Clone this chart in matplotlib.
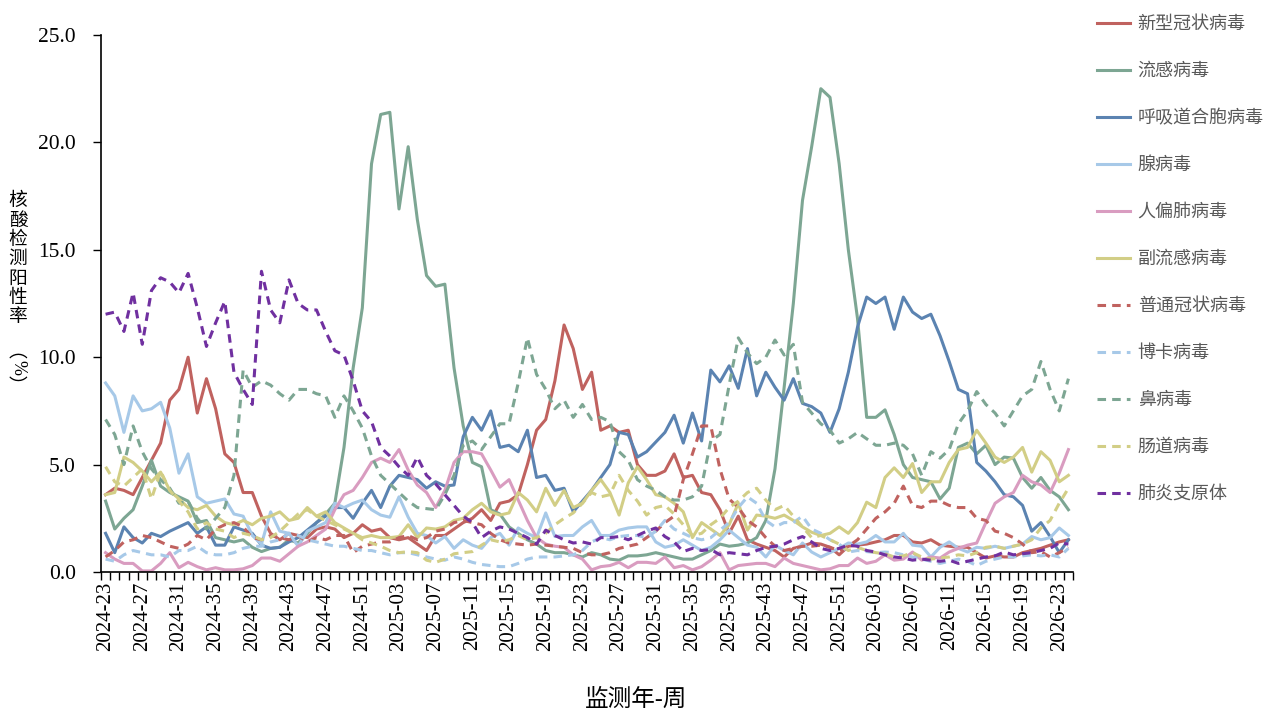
import numpy as np
import matplotlib.pyplot as plt
from matplotlib.ticker import NullFormatter

plt.rcParams['font.family'] = ['Liberation Serif', 'Noto Sans CJK SC']

# weekly categories 2024-23 .. 2026-24
weeks = []
yr, wk = 2024, 23
for _ in range(106):
    weeks.append(f'{yr}-{wk:02d}')
    wk += 1
    if wk > 52:
        yr, wk = yr + 1, 1

covid = [3.6, 3.9, 3.8, 3.6, 4.4, 5.2, 6.0, 8.0, 8.5, 10.0,
         7.4, 9.0, 7.6, 5.5, 5.1, 3.7, 3.7, 2.6, 1.8, 1.5,
         1.8, 1.7, 1.6, 2.0, 2.1, 2.0, 1.6, 1.8, 2.2, 1.9,
         2.0, 1.6, 1.5, 1.6, 1.3, 1.0, 1.7, 1.7, 2.0, 2.3,
         2.5, 2.9, 2.4, 3.2, 3.3, 3.6, 5.0, 6.6, 7.1, 8.9,
         11.5, 10.4, 8.5, 9.3, 6.6, 6.8, 6.5, 6.6, 5.0, 4.5,
         4.5, 4.7, 5.5, 4.4, 4.5, 3.7, 3.6, 2.9, 1.8, 2.6,
         1.5, 1.3, 1.15, 1.0, 0.7, 1.1, 1.2, 1.35, 1.3, 1.15,
         0.8, 1.2, 1.25, 1.3, 1.4, 1.5, 1.7, 1.7, 1.4, 1.35,
         1.5, 1.25, 1.2, 1.15, 1.15, 0.9, 0.65, 0.75, 0.7, 0.7,
         0.9, 1.0, 1.1, 1.25, 1.4, 1.5]
flu = [3.3, 2.0, 2.5, 2.9, 4.0, 5.2, 4.0, 3.7, 3.5, 3.3,
       2.3, 2.4, 1.6, 1.5, 1.4, 1.5, 1.15, 0.95, 1.1, 1.15,
       1.5, 1.35, 1.8, 2.3, 2.7, 3.2, 5.8, 9.5, 12.3, 19.0,
       21.3, 21.4, 16.9, 19.8, 16.4, 13.8, 13.3, 13.4, 9.5, 6.8,
       5.1, 4.9, 2.9, 2.7, 2.1, 1.8, 1.5, 1.3, 1.0, 0.9,
       0.9, 0.8, 0.7, 0.9, 0.8, 0.6, 0.55, 0.75, 0.75, 0.8,
       0.9, 0.8, 0.7, 0.6, 0.6, 0.8, 1.0, 1.3, 1.2, 1.25,
       1.35, 1.6, 2.4, 4.8, 8.6, 12.5, 17.3, 19.8, 22.5, 22.1,
       19.0, 15.0, 11.8, 7.2, 7.2, 7.55, 6.4, 5.0, 4.4, 4.3,
       4.2, 3.4, 3.9, 5.8, 6.0, 5.5, 5.9, 5.0, 5.35, 5.3,
       4.4, 3.9, 4.4, 3.8, 3.5, 2.9]
rsv = [1.8, 0.9, 2.1, 1.6, 1.35, 1.8, 1.65, 1.9, 2.1, 2.3,
       1.8, 2.1, 1.25, 1.25, 2.1, 1.95, 1.8, 1.25, 1.1, 1.15,
       1.4, 1.6, 1.95, 2.3, 2.6, 3.0, 3.0, 2.5, 3.2, 3.8,
       3.0, 4.0, 4.5, 4.4, 4.3, 3.9, 4.2, 4.0, 4.05, 6.3,
       7.2, 6.6, 7.5, 5.8, 5.9, 5.6, 6.6, 4.4, 4.5, 3.8,
       3.9, 2.8, 3.3, 3.8, 4.4, 5.0, 6.5, 6.4, 5.35, 5.6,
       6.05, 6.5, 7.3, 6.0, 7.4, 6.1, 9.4, 8.85, 9.6, 8.55,
       10.4, 8.2, 9.3, 8.6, 8.0, 9.0, 7.85, 7.7, 7.4, 6.5,
       7.6, 9.3, 11.4, 12.8, 12.5, 12.8, 11.3, 12.8, 12.1, 11.8,
       12.0, 11.0, 9.8, 8.5, 8.3, 5.1, 4.7, 4.2, 3.6, 3.5,
       3.1, 1.9, 2.3, 1.65, 0.9, 1.5]
adeno = [8.8, 8.2, 6.5, 8.2, 7.5, 7.6, 7.9, 6.7, 4.6, 5.5,
         3.5, 3.2, 3.3, 3.4, 2.7, 2.6, 1.7, 1.3, 2.8, 1.9,
         1.8, 1.2, 1.9, 2.1, 2.3, 3.2, 3.0, 3.2, 3.35, 2.9,
         2.65, 2.55, 3.5, 2.55, 1.8, 1.7, 1.35, 1.65, 1.1, 1.5,
         1.25, 1.1, 1.6, 1.8, 1.25, 2.05, 1.8, 1.6, 2.75, 1.65,
         1.7, 1.7, 2.1, 2.4, 1.7, 1.7, 1.95, 2.05, 2.1, 2.1,
         1.4, 1.15, 1.25, 1.5, 1.25, 1.0, 1.15, 1.5, 1.95, 1.6,
         1.25, 1.15, 0.7, 1.25, 1.0, 0.8, 1.35, 0.93, 0.7, 0.9,
         1.1, 1.35, 1.3, 1.4, 1.7, 1.4, 1.4, 1.8, 1.25, 1.2,
         0.7, 1.15, 1.4, 1.1, 0.93, 1.15, 1.1, 1.2, 1.1, 1.2,
         1.3, 1.65, 1.5, 1.6, 2.05, 1.7]
hmpv = [0.9, 0.6, 0.4, 0.4, 0.05, 0.05, 0.4, 0.9, 0.2, 0.45,
        0.25, 0.1, 0.2, 0.1, 0.1, 0.15, 0.3, 0.65, 0.65, 0.5,
        0.85, 1.2, 1.4, 1.7, 2.0, 2.9, 3.6, 3.8, 4.4, 5.1,
        5.3, 5.1, 5.7, 4.75, 4.05, 3.7, 3.0, 3.8, 5.1, 5.6,
        5.6, 5.5, 4.75, 3.95, 4.3, 3.35, 2.4, 1.6, 1.3, 1.2,
        1.15, 0.8, 0.6, 0.1, 0.25, 0.3, 0.45, 0.2, 0.45, 0.45,
        0.4, 0.7, 0.2, 0.3, 0.1, 0.25, 0.55, 0.9, 0.1, 0.3,
        0.35, 0.4, 0.4, 0.25, 0.65, 0.4, 0.3, 0.2, 0.1, 0.15,
        0.3, 0.3, 0.65, 0.4, 0.5, 0.8, 0.55, 0.6, 0.93, 0.55,
        0.7, 0.65, 0.93, 1.1, 1.25, 1.35, 2.3, 3.2, 3.5, 3.7,
        4.5, 4.2, 4.05, 3.7, 4.6, 5.7]
para = [3.6, 3.7, 5.35, 5.1, 4.7, 4.2, 4.65, 3.8, 3.4, 3.0,
        2.9, 3.1, 2.6, 2.3, 2.2, 2.4, 2.2, 2.5, 2.6, 2.8,
        2.4, 2.5, 3.0, 2.6, 2.8, 2.3, 2.05, 1.8, 1.6, 1.7,
        1.6, 1.6, 1.65, 2.2, 1.6, 2.05, 2.0, 2.1, 2.4, 2.5,
        2.9, 3.2, 2.8, 2.65, 2.75, 3.7, 3.35, 2.8, 3.9, 3.1,
        3.8, 3.0, 3.2, 3.8, 4.3, 3.7, 2.65, 4.15, 4.9, 4.3,
        3.6, 3.5, 3.2, 2.8, 1.6, 2.3, 2.0, 1.7, 2.2, 3.2,
        1.95, 2.65, 2.6, 2.5, 2.65, 2.4, 2.1, 1.85, 1.7, 1.8,
        2.1, 1.8, 2.3, 3.25, 3.0, 4.4, 4.85, 4.4, 5.05, 3.7,
        4.2, 4.2, 5.1, 5.7, 5.8, 6.6, 6.0, 5.35, 5.1, 5.35,
        5.8, 4.65, 5.6, 5.2, 4.2, 4.5]
hcov = [0.7, 1.0, 1.4, 1.5, 1.7, 1.6, 1.4, 1.2, 1.1, 1.3,
        1.7, 1.5, 2.0, 2.2, 2.3, 2.1, 1.6, 1.5, 1.7, 1.6,
        1.5, 1.7, 1.4, 1.6, 1.5, 1.7, 1.7, 0.9, 1.2, 1.3,
        1.4, 1.4, 1.6, 1.7, 1.5, 1.6, 1.9, 2.0, 2.3, 2.4,
        2.3, 2.2, 1.8, 1.5, 1.35, 1.3, 1.25, 1.3, 1.25, 1.2,
        1.15, 1.1, 0.9, 0.8, 0.8, 0.9, 1.1, 1.2, 1.3, 1.6,
        1.9, 2.3, 2.6, 4.3, 5.5, 6.8, 6.8, 4.8, 3.4, 3.0,
        2.4, 2.1, 1.6, 1.2, 1.0, 1.1, 1.2, 1.2, 1.25, 1.15,
        1.0, 1.2, 1.5, 2.0, 2.5, 2.8, 3.2, 4.0, 3.1, 3.0,
        3.3, 3.3, 3.1, 3.0, 3.0, 2.5, 2.4, 1.9, 1.8, 1.6,
        1.3, 0.9, 0.95, 0.7, 0.9, 1.15]
boca = [0.6, 0.5, 0.8, 1.0, 0.9, 0.8, 0.8, 0.7, 1.0, 1.0,
        1.2, 0.9, 0.8, 0.8, 0.9, 1.1, 1.2, 1.2, 1.4, 1.5,
        1.8, 1.7, 1.5, 1.4, 1.3, 1.2, 1.2, 1.1, 1.0, 1.0,
        0.9, 0.8, 0.9, 0.9, 0.8, 0.7, 0.6, 0.55, 0.7, 0.6,
        0.45, 0.35, 0.3, 0.25, 0.25, 0.4, 0.6, 0.7, 0.7, 0.7,
        0.75, 0.8, 1.0, 1.4, 1.6, 1.5, 1.65, 1.7, 1.7, 1.6,
        1.9, 2.4, 2.0, 1.8, 1.6, 1.5, 1.6, 1.95, 2.3, 3.0,
        3.5, 3.2, 2.4, 2.1, 2.3, 2.3, 2.6, 2.0, 1.8, 1.5,
        1.3, 0.93, 1.0, 0.95, 0.9, 0.93, 0.9, 0.8, 0.7, 0.6,
        0.5, 0.4, 0.5, 0.6, 0.5, 0.3, 0.5, 0.6, 0.7, 0.7,
        0.75, 0.8, 0.75, 0.8, 0.7, 1.1]
rhino = [7.1, 6.4, 5.0, 6.8, 5.6, 4.8, 4.3, 3.9, 3.2, 3.3,
         2.5, 2.0, 2.5, 3.0, 4.5, 9.4, 8.6, 8.9, 8.7, 8.3,
         8.0, 8.5, 8.5, 8.3, 8.2, 7.2, 8.2, 7.5, 6.7, 5.4,
         4.5, 4.1, 3.7, 3.3, 3.0, 2.95, 2.9, 3.6, 4.5, 5.9,
         6.1, 5.7, 6.3, 6.9, 6.9, 8.8, 10.9, 9.2, 8.5, 7.6,
         8.0, 7.2, 7.8, 7.1, 7.2, 7.0, 5.6, 5.2, 4.3, 4.0,
         3.8, 3.5, 3.35, 3.35, 3.5, 4.0, 6.1, 6.4, 8.7, 10.9,
         10.2, 9.7, 10.0, 10.8, 10.1, 10.6, 7.9, 7.4, 6.9, 6.6,
         6.0, 6.2, 6.5, 6.2, 5.9, 5.9, 6.0, 5.9, 5.5, 4.5,
         5.6, 5.3, 5.7, 6.9, 7.5, 8.4, 7.8, 7.4, 6.8, 7.5,
         8.2, 8.5, 9.8, 8.5, 7.5, 9.0]
entero = [4.9, 4.2, 4.0, 4.4, 4.8, 3.4, 4.7, 3.8, 3.3, 2.8,
          2.0, 2.3, 2.0, 1.9, 1.6, 1.8, 1.7, 1.5, 1.6, 1.9,
          2.3, 2.7, 2.9, 2.6, 2.4, 2.2, 2.0, 1.8, 1.5, 1.35,
          1.2, 1.0, 0.9, 0.95, 0.9, 0.55, 0.45, 0.6, 0.85, 0.9,
          0.95, 1.25, 1.5, 1.4, 1.5, 1.7, 1.5, 1.6, 1.8, 2.2,
          2.5, 2.75, 3.2, 3.7, 3.5, 3.6, 4.5, 3.8, 3.3, 2.65,
          3.0, 3.1, 2.7, 2.2, 1.7, 1.8, 2.2, 2.5, 3.0, 3.3,
          3.7, 3.9, 3.35, 2.9, 3.1, 2.6, 2.1, 1.6, 1.7, 1.5,
          1.3, 1.0, 1.15, 1.0, 0.9, 0.85, 0.7, 0.75, 0.9, 0.7,
          0.6, 0.65, 0.7, 0.8, 0.75, 0.9, 1.15, 1.2, 1.1, 1.2,
          1.3, 1.5, 2.05, 2.4, 3.2, 3.9]
myco = [12.0, 12.1, 11.2, 13.0, 10.6, 13.1, 13.7, 13.5, 13.0, 13.9,
        12.3, 10.5, 11.6, 12.6, 9.3, 8.5, 7.8, 14.0, 12.2, 11.6,
        13.6, 12.5, 12.2, 12.2, 11.2, 10.3, 10.1, 8.9, 7.5, 7.0,
        5.8, 5.4, 4.9, 4.5, 5.35, 4.5, 4.1, 3.6, 3.1, 2.6,
        2.3, 1.6, 1.9, 2.1, 2.0, 1.8, 1.6, 1.3, 1.95, 1.7,
        1.5, 1.35, 1.4, 1.3, 1.6, 1.6, 1.65, 1.5, 1.7, 1.9,
        2.05, 1.65, 1.4, 0.95, 1.1, 1.0, 1.05, 0.8, 0.9, 0.85,
        0.8, 1.0, 1.15, 1.2, 1.3, 1.5, 1.65, 1.4, 1.1, 1.0,
        1.1, 1.25, 1.2, 1.0, 0.93, 0.8, 0.7, 0.65, 0.55, 0.6,
        0.55, 0.5, 0.55, 0.4, 0.5, 0.6, 0.7, 0.75, 0.93, 0.8,
        0.85, 0.9, 1.0, 1.1, 1.35, 1.3]

red, green, blue = '#c0625f', '#7da693', '#5b83b1'
lblue, pink, yellow, purple = '#a7c9e8', '#d99cc0', '#d2ce86', '#7030a0'

series = [
    ('新型冠状病毒', covid, red, False),
    ('流感病毒', flu, green, False),
    ('呼吸道合胞病毒', rsv, blue, False),
    ('腺病毒', adeno, lblue, False),
    ('人偏肺病毒', hmpv, pink, False),
    ('副流感病毒', para, yellow, False),
    ('普通冠状病毒', hcov, red, True),
    ('博卡病毒', boca, lblue, True),
    ('鼻病毒', rhino, green, True),
    ('肠道病毒', entero, yellow, True),
    ('肺炎支原体', myco, purple, True),
]

fig = plt.figure(figsize=(12.8, 7.2), dpi=100)
ax = fig.add_axes([101 / 1280, 1 - 572 / 720, (1073 - 101) / 1280, (572 - 35) / 720])

x = np.arange(len(weeks))
for name, vals, col, dashed in series:
    line, = ax.plot(x, vals, color=col, lw=2.2, label=name)
    if dashed:
        line.set_dashes((2.8, 2.0))

ax.set_xlim(-0.5, len(weeks) - 0.5)
ax.set_ylim(0, 25)
yt = np.arange(0, 25.1, 5)
ax.set_yticks(yt)
ax.set_yticklabels([f'{v:.1f}' for v in yt], fontsize=15.5)
ax.tick_params(axis='y', length=6, width=1, direction='out', pad=12)

# tick marks between categories, labels at category centres
ax.set_xticks(np.arange(-0.5, len(weeks), 1))
ax.xaxis.set_major_formatter(NullFormatter())
ax.tick_params(axis='x', which='major', length=6, width=1, direction='out')
ax.set_xticks(x[::4], minor=True)
ax.set_xticklabels(weeks[::4], minor=True, rotation=90, fontsize=15)
ax.tick_params(axis='x', which='minor', length=0, pad=7)

for s in ['top', 'right']:
    ax.spines[s].set_visible(False)
for s in ['left', 'bottom']:
    ax.spines[s].set_linewidth(1.2)

# stacked vertical axis title
fig.text(18 / 1280, 1 - 193 / 720, '\n'.join('核酸检测阳性率'), ha='center', va='top',
         fontsize=13.5, linespacing=1.17)
fig.text(18 / 1280, 1 - 351 / 720, '︵', ha='center', va='center', fontsize=13.5,
         family='Noto Sans CJK SC')
fig.text(18 / 1280, 1 - 368 / 720, '%', ha='center', va='center', rotation=-90,
         fontsize=13)
fig.text(18 / 1280, 1 - 386 / 720, '︶', ha='center', va='center', fontsize=13.5,
         family='Noto Sans CJK SC')
fig.text(636 / 1280, 1 - 700 / 720, '监测年-周', ha='center', va='center', fontsize=17)

fig.legend(loc='upper left', bbox_to_anchor=(1097 / 1280, 1 - 16 / 720),
           frameon=False, fontsize=13, handlelength=1.8, handletextpad=0.45,
           labelspacing=1.66, borderpad=0, borderaxespad=0, labelcolor='#595959')

fig.savefig('out.png', dpi=100)
